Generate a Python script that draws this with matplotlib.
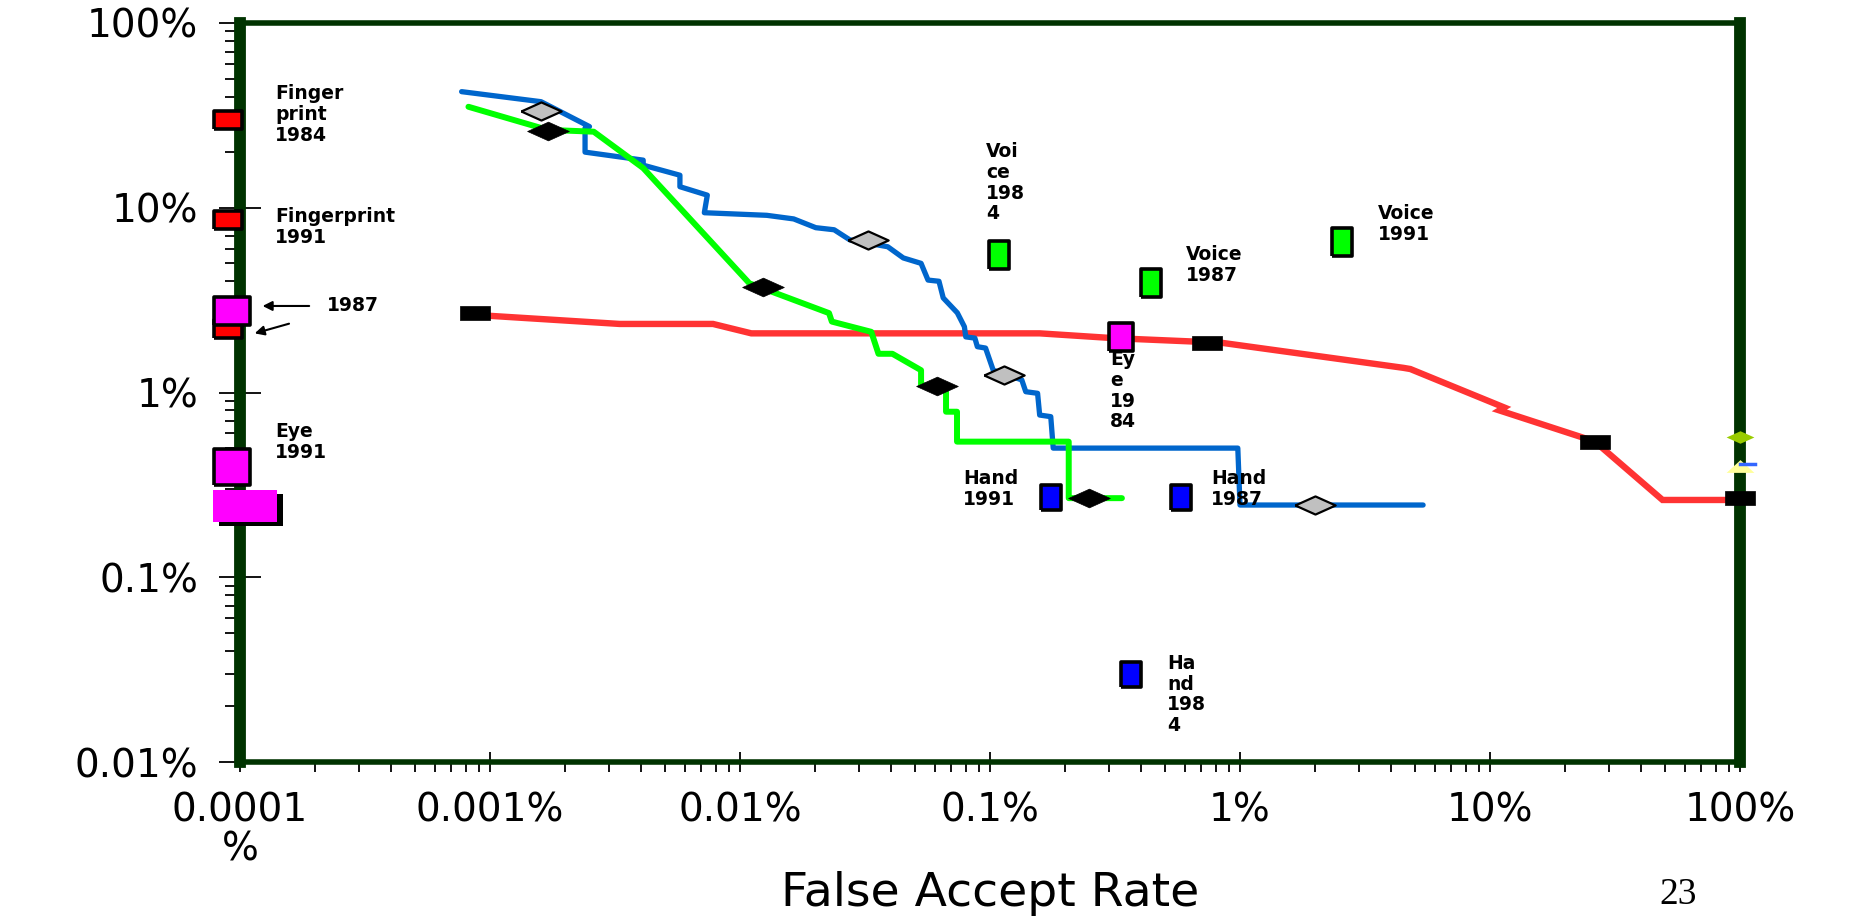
import matplotlib.pyplot as plt
import matplotlib.transforms as mtransforms
import numpy as np
from matplotlib.ticker import FixedLocator, LogLocator, NullFormatter

# Curves: false accept rate (%) vs false reject rate (%)
blue_far = [7.7e-4, 1.6e-3, 2.5e-3, 2.4e-3, 2.4e-3, 4.1e-3, 4.1e-3, 5.75e-3, 5.75e-3, 7.4e-3,
            7.2e-3, 0.0128, 0.0164, 0.0201, 0.0238, 0.0275, 0.039, 0.045, 0.053, 0.0565,
            0.0625, 0.065, 0.074, 0.079, 0.080, 0.087, 0.089, 0.096, 0.103, 0.134,
            0.139, 0.155, 0.158, 0.175, 0.179, 0.98, 1.0, 5.4]
blue_frr = [42.5, 37.5, 27.5, 27.0, 20.0, 18.1, 17.0, 15.0, 13.0, 11.7,
            9.4, 9.1, 8.7, 7.8, 7.6, 6.7, 6.15, 5.35, 5.0, 4.06,
            4.0, 3.25, 2.7, 2.27, 2.0, 1.97, 1.77, 1.74, 1.32, 1.17,
            1.01, 0.99, 0.755, 0.74, 0.50, 0.50, 0.246, 0.246]
blue_pts_far = [1.6e-3, 0.0325, 0.114, 2.0]
blue_pts_frr = [33.4, 6.7, 1.24, 0.246]

green_far = [8.2e-4, 1.7e-3, 2.6e-3, 4.1e-3, 0.0109, 0.0227, 0.0233, 0.0335, 0.0358, 0.0407,
             0.053, 0.053, 0.0667, 0.0667, 0.0738, 0.0738, 0.2065, 0.2065, 0.337]
green_frr = [35.2, 26.4, 25.8, 16.4, 3.9, 2.69, 2.42, 2.13, 1.62, 1.62,
             1.32, 1.10, 1.03, 0.787, 0.787, 0.542, 0.542, 0.268, 0.268]
green_pts_far = [1.7e-3, 0.0124, 0.0614, 0.249]
green_pts_frr = [26.0, 3.73, 1.09, 0.268]

red_far = [8.7e-4, 1.0e-3, 3.3e-3, 7.8e-3, 0.0111, 0.158, 0.31, 0.84, 4.5, 4.8,
           11.4, 10.9, 22.9, 26.3, 49.0, 100.0]
red_frr = [2.70, 2.60, 2.35, 2.35, 2.09, 2.09, 1.97, 1.86, 1.36, 1.34,
           0.83, 0.80, 0.577, 0.542, 0.262, 0.262]
red_pts_far = [8.7e-4, 0.74, 26.3, 100.0]
red_pts_frr = [2.70, 1.86, 0.542, 0.268]

# Single test results
finger_far = [8.95e-5, 8.95e-5, 8.95e-5]   # 1984, 1991, 1987
finger_frr = [29.7, 8.6, 2.2]
eye_far = [9.3e-5, 9.3e-5]                 # 1987, 1991
eye_frr = [2.76, 0.395]
eye84_far = [0.334]
eye84_frr = [2.0]
eye_bar_far = [1.047e-4]
eye_bar_frr = [0.243]
voice_far = [0.1087, 0.44, 2.56]           # 1984, 1987, 1991
voice_frr = [5.55, 3.91, 6.53]
hand_far = [0.175, 0.58, 0.365]            # 1991, 1987, 1984
hand_frr = [0.272, 0.272, 0.0301]

labels = ["Finger\nprint\n1984", "Fingerprint\n1991", "Eye\n1991", "Voi\nce\n198\n4",
          "Voice\n1987", "Voice\n1991", "Ey\ne\n19\n84", "Hand\n1991", "Hand\n1987",
          "Ha\nnd\n198\n4"]
label_x = [1.38e-4, 1.38e-4, 1.38e-4, 0.0964, 0.608, 3.56, 0.302, 0.078, 0.766, 0.511]
label_y = [46.8, 10.1, 0.692, 22.7, 6.29, 10.5, 1.70, 0.385, 0.385, 0.0385]

x_ticks = [1e-4, 1e-3, 1e-2, 1e-1, 1, 10, 100]
x_ticklabels = ["0.0001\n%", "0.001%", "0.01%", "0.1%", "1%", "10%", "100%"]
y_ticks = [0.01, 0.1, 1, 10, 100]
y_ticklabels = ["0.01%", "0.1%", "1%", "10%", "100%"]


def rect(aspect):
    # rectangle marker, aspect = height / width
    if aspect <= 1:
        w, h = 1.0, aspect
    else:
        w, h = 1.0 / aspect, 1.0
    return [(-w, -h), (w, -h), (w, h), (-w, h), (-w, -h)]


diamond = [(-1, 0), (0, 0.45), (1, 0), (0, -0.45), (-1, 0)]
triangle = [(-1, -0.46), (1, -0.46), (0, 0.46), (-1, -0.46)]

fig = plt.figure(figsize=(18.51, 9.17), dpi=100)
ax = fig.add_axes([240 / 1851, 155 / 917, 1500 / 1851, 739 / 917])
ax.set_xscale('log')
ax.set_yscale('log')
ax.set_xlim(1e-4, 100)
ax.set_ylim(0.01, 100)

# curves
ax.plot(red_far, red_frr, color='#ff3333', lw=4.6, solid_joinstyle='miter', zorder=3)
ax.plot(blue_far, blue_frr, color='#0066cc', lw=3.8, solid_capstyle='round', zorder=3)
ax.plot(green_far, green_frr, color='#00ff00', lw=4.3, solid_capstyle='round', zorder=3)

ax.plot(blue_pts_far, blue_pts_frr, ls='none', marker=diamond, ms=29, mfc='#c0c0c0',
        mec='black', mew=1.6, zorder=4)
ax.plot(green_pts_far, green_pts_frr, ls='none', marker=diamond, ms=30, mfc='black',
        mec='black', mew=0.5, zorder=4)
ax.plot(red_pts_far, red_pts_frr, ls='none', marker=rect(0.48), ms=22, mfc='black',
        mec='black', mew=0.5, zorder=4, clip_on=False)

# single points
mk = dict(ls='none', mec='black', mew=2.6, zorder=6, clip_on=False)
ax.plot(finger_far, finger_frr, marker=rect(0.63), ms=20, mfc='#ff0000', **mk)
ax.plot(eye_far[:1], eye_frr[:1], marker=rect(0.78), ms=26, mfc='#ff00ff', **mk)
ax.plot(eye_far[1:], eye_frr[1:], marker=rect(0.97), ms=26, mfc='#ff00ff', **mk)
ax.plot(eye84_far, eye84_frr, marker=rect(1.17), ms=19.5, mfc='#ff00ff', **mk)
ax.plot(voice_far, voice_frr, marker=rect(1.4), ms=20, mfc='#00ff00', **mk)
ax.plot(hand_far, hand_frr, marker=rect(1.25), ms=18, mfc='#0000ff', **mk)

shadow = ax.transData + mtransforms.ScaledTranslation(0.06, -0.04, fig.dpi_scale_trans)
ax.plot(eye_bar_far, eye_bar_frr, ls='none', marker=rect(0.5), ms=46, mfc='black', mew=0,
        transform=shadow, zorder=6, clip_on=False)
ax.plot(eye_bar_far, eye_bar_frr, ls='none', marker=rect(0.5), ms=46, mfc='#ff00ff', mew=0,
        zorder=6, clip_on=False)

# small marks on the right edge
ax.plot([100], [0.574], ls='none', marker=diamond, ms=20, mfc='#99cc00', mew=0,
        zorder=6, clip_on=False)
ax.plot([100], [0.40], ls='none', marker=triangle, ms=20, mfc='#ffff99', mew=0,
        zorder=6, clip_on=False)
ax.plot([100, 115], [0.41, 0.41], color='#3366ff', lw=2.5, zorder=6, clip_on=False)

for txt, lx, ly in zip(labels, label_x, label_y):
    ax.text(lx, ly, txt, fontsize=13.5, fontweight='bold', family='DejaVu Sans',
            ha='left', va='top', linespacing=1.12, zorder=5)

ax.text(2.23e-4, 2.94, "1987", fontsize=13.5, fontweight='bold', ha='left', va='center')
arrow = dict(arrowstyle='-|>', color='black', lw=1.5, mutation_scale=14)
ax.annotate("", xy=(1.20e-4, 2.94), xytext=(1.94e-4, 2.94), arrowprops=arrow,
            annotation_clip=False, zorder=7)
ax.annotate("", xy=(1.117e-4, 2.07), xytext=(1.61e-4, 2.38), arrowprops=arrow,
            annotation_clip=False, zorder=7)

# frame
for s in ['left', 'right']:
    ax.spines[s].set_linewidth(8.5)
for s in ['top', 'bottom']:
    ax.spines[s].set_linewidth(4)
for s in ax.spines.values():
    s.set_color('#003300')
    s.set_capstyle('projecting')

ax.xaxis.set_major_locator(FixedLocator(x_ticks))
ax.set_xticklabels(x_ticklabels)
ax.yaxis.set_major_locator(FixedLocator(y_ticks))
ax.set_yticklabels(y_ticklabels)
ax.xaxis.set_minor_locator(LogLocator(base=10, subs=np.arange(2, 10), numticks=20))
ax.yaxis.set_minor_locator(LogLocator(base=10, subs=np.arange(2, 10), numticks=20))
ax.xaxis.set_minor_formatter(NullFormatter())
ax.yaxis.set_minor_formatter(NullFormatter())

ax.tick_params(axis='y', which='major', direction='inout', length=30, width=1.3, pad=15,
               labelsize=28)
ax.tick_params(axis='y', which='minor', direction='out', length=11, width=1.3)
ax.tick_params(axis='x', which='major', direction='inout', length=14, width=1.3, pad=14,
               labelsize=28)
ax.tick_params(axis='x', which='minor', direction='out', length=7, width=1.3)
for t in ax.get_xticklabels():
    t.set_linespacing(1.05)

ax.set_xlabel('False Accept Rate', fontsize=34)
ax.xaxis.set_label_coords(0.5, -0.148)

fig.text(1659 / 1851, 1 - 878 / 917, '23', family=['Liberation Serif', 'DejaVu Serif'],
         fontsize=27, ha='left', va='top')

plt.savefig('out.png', dpi=100)
